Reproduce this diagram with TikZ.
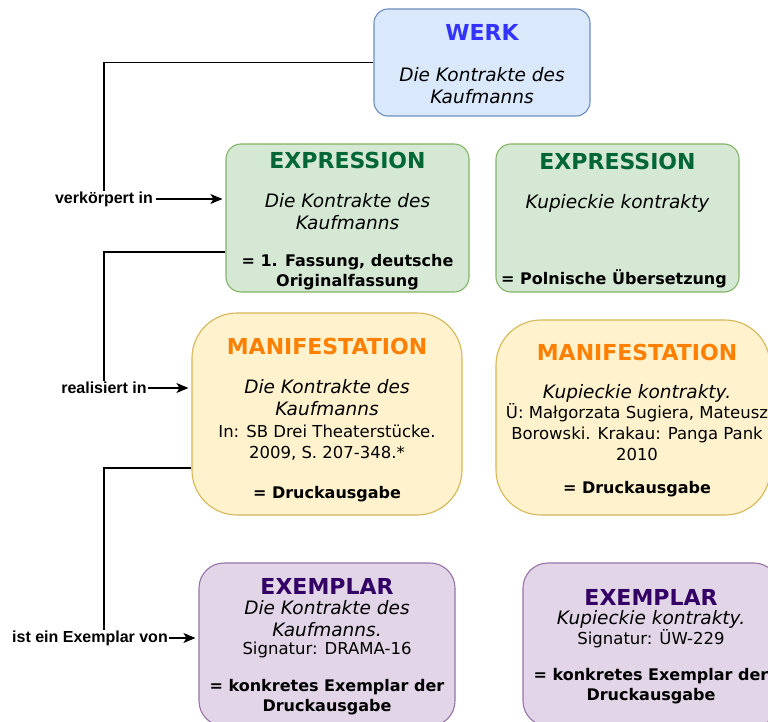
\documentclass[tikz,border=0pt]{standalone}
\usepackage{fontspec}
\setmainfont{DejaVu Sans}
\newfontfamily\arialfont{Liberation Sans}
\usepackage{xcolor}
\usetikzlibrary{arrows.meta}

\definecolor{werkfill}{HTML}{DAE8FC}
\definecolor{werkline}{HTML}{6C8EBF}
\definecolor{werktitle}{HTML}{3333FF}
\definecolor{expfill}{HTML}{D5E8D4}
\definecolor{expline}{HTML}{82B366}
\definecolor{exptitle}{HTML}{006633}
\definecolor{manfill}{HTML}{FFF2CC}
\definecolor{manline}{HTML}{D6B656}
\definecolor{mantitle}{HTML}{FF8000}
\definecolor{exefill}{HTML}{E1D5E7}
\definecolor{exeline}{HTML}{9673A6}
\definecolor{exetitle}{HTML}{330066}

\tikzset{
  box/.style={draw, line width=1.1pt, inner sep=0pt, rounded corners=#1},
  titletext/.style={inner sep=0pt, align=center, font=\fontsize{22}{26}\selectfont\bfseries},
  itext/.style={inner sep=0pt, align=center, font=\fontsize{18.5}{22}\selectfont\itshape},
  ntext/.style={inner sep=0pt, align=center, font=\fontsize{16.5}{21}\selectfont},
  btext/.style={inner sep=0pt, align=center, font=\fontsize{16}{19.5}\selectfont\bfseries},
  reltext/.style={fill=white, inner sep=1pt, font=\arialfont\fontsize{16}{18}\selectfont\bfseries},
  link/.style={line width=1.2pt, -{Stealth[length=12pt,width=10pt,inset=3pt]}, shorten >=3pt}
}

\begin{document}
\begin{tikzpicture}[x=1pt,y=-1pt]

\useasboundingbox (0,0) rectangle (768,722);
\clip (0,0) rectangle (768,722);

% WERK
\node[box=14pt, fill=werkfill, draw=werkline, minimum width=216pt, minimum height=107pt] (werk) at (482,62.5) {};
\node[titletext, text=werktitle] (werkT) at (482,32) {WERK};
\node[itext] (werkI) at (482,86) {Die Kontrakte des\\Kaufmanns};

% EXPRESSION
\node[box=15pt, fill=expfill, draw=expline, minimum width=243pt, minimum height=148pt] (exp1) at (347.5,218) {};
\node[titletext, text=exptitle] (exp1T) at (347.5,160) {EXPRESSION};
\node[itext] (exp1I) at (347.5,212) {Die Kontrakte des\\Kaufmanns};
\node[btext] (exp1B) at (347.5,272) {= 1. Fassung, deutsche\\Originalfassung};

\node[box=15pt, fill=expfill, draw=expline, minimum width=243pt, minimum height=148pt] (exp2) at (617.5,218) {};
\node[titletext, text=exptitle] (exp2T) at (617.5,161) {EXPRESSION};
\node[itext] (exp2I) at (617.5,203) {Kupieckie kontrakty};
\node[btext] (exp2B) at (614,279) {= Polnische Übersetzung};

% MANIFESTATION
\node[box=45pt, fill=manfill, draw=manline, minimum width=270pt, minimum height=202pt] (man1) at (327,414) {};
\node[titletext, text=mantitle] (man1T) at (327,346) {MANIFESTATION};
\node[itext] (man1I) at (327,398) {Die Kontrakte des\\Kaufmanns};
\node[ntext] (man1N) at (327,442.5) {In: SB Drei Theaterstücke.\\2009, S. 207-348.*};
\node[btext] (man1B) at (327,494) {= Druckausgabe};

\node[box=45pt, fill=manfill, draw=manline, minimum width=274pt, minimum height=195pt] (man2) at (633,417.5) {};
\node[titletext, text=mantitle] (man2T) at (637,352) {MANIFESTATION};
\node[itext] (man2I) at (637,393) {Kupieckie kontrakty.};
\node[ntext] (man2N) at (637,432) {Ü: Małgorzata Sugiera, Mateusz\\Borowski. Krakau: Panga Pank\\2010};
\node[btext] (man2B) at (637,489) {= Druckausgabe};

% EXEMPLAR
\node[box=25pt, fill=exefill, draw=exeline, minimum width=256pt, minimum height=163pt] (exe1) at (327,644.5) {};
\node[titletext, text=exetitle] (exe1T) at (327,586) {EXEMPLAR};
\node[itext] (exe1I) at (327,619) {Die Kontrakte des\\Kaufmanns.};
\node[ntext] (exe1N) at (327,650) {Signatur: DRAMA-16};
\node[btext] (exe1B) at (327,697) {= konkretes Exemplar der\\Druckausgabe};

\node[box=25pt, fill=exefill, draw=exeline, minimum width=256pt, minimum height=163pt] (exe2) at (651,644.5) {};
\node[titletext, text=exetitle] (exe2T) at (651,597) {EXEMPLAR};
\node[itext] (exe2I) at (651,619) {Kupieckie kontrakty.};
\node[ntext] (exe2N) at (651,639) {Signatur: ÜW-229};
\node[btext] (exe2B) at (651,686) {= konkretes Exemplar der\\Druckausgabe};

% Beziehungen
\coordinate (k1) at (104,199);
\coordinate (k2) at (104,388);
\coordinate (k3) at (104,638);
\coordinate (s2) at (0,252);
\coordinate (s3) at (0,468);

\draw[link] (werk.west) -| (k1) -- (k1 -| exp1.west);
\draw[link] (exp1.west |- s2) -| (k2) -- (k2 -| man1.west);
\draw[link] (man1.west |- s3) -| (k3) -- (k3 -| exe1.west);

\node[reltext, inner xsep=3pt] (rel1) at (104,199) {verkörpert in};
\node[reltext] (rel2) at (k2) {realisiert in};
\node[reltext] (rel3) at (90,638) {ist ein Exemplar von};

\end{tikzpicture}
\end{document}
